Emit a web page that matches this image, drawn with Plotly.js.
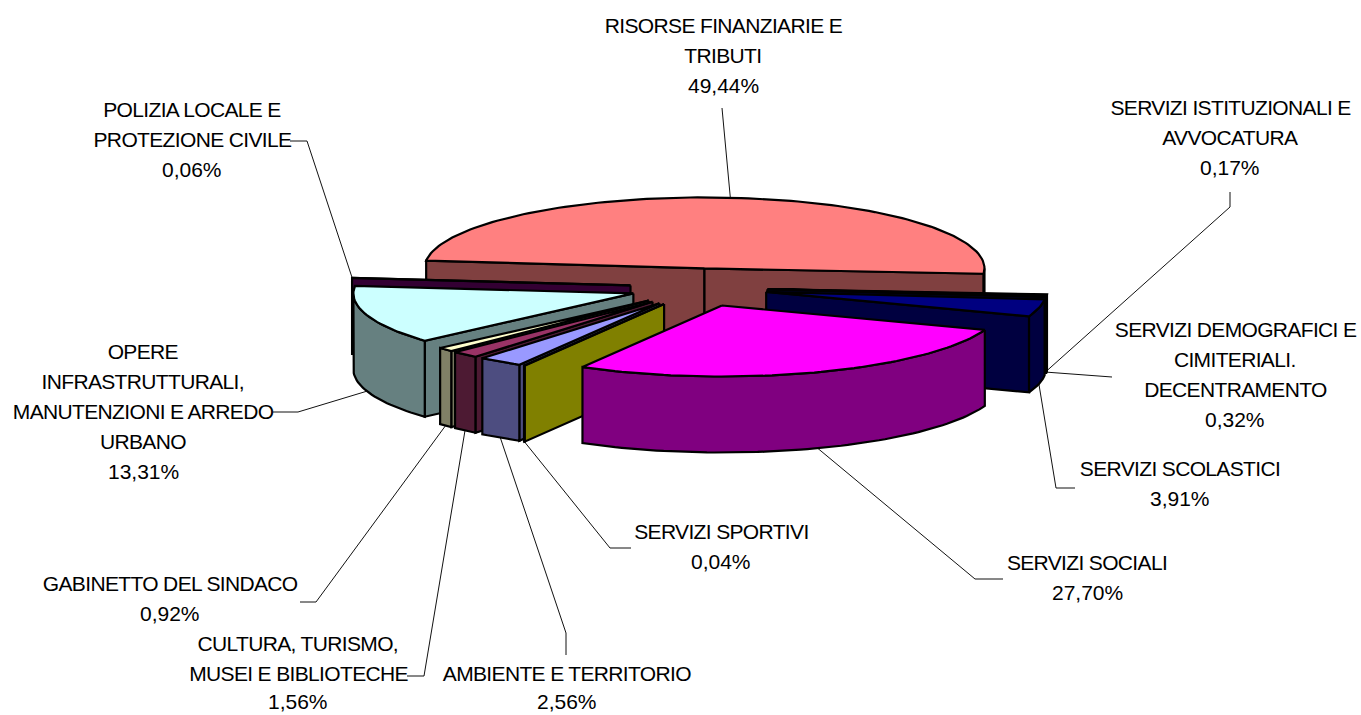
<!DOCTYPE html>
<html>
<head>
<meta charset="utf-8">
<script src="https://cdn.plot.ly/plotly-3.0.1.min.js"></script>
<style>html,body{margin:0;padding:0;background:#fff;overflow:hidden}#chart{width:1361px;height:715px}</style>
</head>
<body>
<div id="chart"></div>
<script>
// Data, in the clockwise order of the pie
const categories = ["RISORSE FINANZIARIE E TRIBUTI","SERVIZI ISTITUZIONALI E AVVOCATURA","SERVIZI DEMOGRAFICI E CIMITERIALI. DECENTRAMENTO","SERVIZI SCOLASTICI","SERVIZI SOCIALI","SERVIZI SPORTIVI","AMBIENTE E TERRITORIO","CULTURA, TURISMO, MUSEI E BIBLIOTECHE","GABINETTO DEL SINDACO","OPERE INFRASTRUTTURALI, MANUTENZIONI E ARREDO URBANO","POLIZIA LOCALE E PROTEZIONE CIVILE"];
const values = [49.44,0.17,0.32,3.91,27.70,0.04,2.56,1.56,0.92,13.31,0.06];
const valueLabels = ["49,44%","0,17%","0,32%","3,91%","27,70%","0,04%","2,56%","1,56%","0,92%","13,31%","0,06%"];
const labelLines = [
  ["RISORSE FINANZIARIE E","TRIBUTI"],
  ["SERVIZI ISTITUZIONALI E","AVVOCATURA"],
  ["SERVIZI DEMOGRAFICI E","CIMITERIALI.","DECENTRAMENTO"],
  ["SERVIZI SCOLASTICI"],
  ["SERVIZI SOCIALI"],
  ["SERVIZI SPORTIVI"],
  ["AMBIENTE E TERRITORIO"],
  ["CULTURA, TURISMO,","MUSEI E BIBLIOTECHE"],
  ["GABINETTO DEL SINDACO"],
  ["OPERE","INFRASTRUTTURALI,","MANUTENZIONI E ARREDO","URBANO"],
  ["POLIZIA LOCALE E","PROTEZIONE CIVILE"]
];
// Styling
const topColors  = ["#FF8080","#0000FF","#000080","#000080","#FF00FF","#FFFF00","#9999FF","#993366","#FFFFCC","#CCFFFF","#660066"];
const wallColors = ["#804040","#000080","#000040","#000040","#800080","#808000","#4D4D80","#4D1A33","#808066","#668080","#330033"];
const drawOrder = [0,1,2,3,10,9,8,7,6,5,4];
// Label layout: centre x, first line y, line pitch, lowest line y
const labelX = [723,1230,1235,1180,1087,721,567,298,170,143,192];
const labelY = [25,107,329,468,562,531,673,643,583,351,109];
const pitch = 30;
const lowestY = 701;
// Leader elbows: [label end, elbow]
const leaderPath = [
  [[722,108]],
  [[1230,192],[1230,207]],
  [[1112,377]],
  [[1075,488],[1056,488]],
  [[1003,579],[975,579]],
  [[631,548],[610,548]],
  [[566,655],[566,633]],
  [[407,676],[424,676]],
  [[300,602],[316,602]],
  [[273,412],[298,412]],
  [[290,141],[307,141]]
];
// Pie geometry
const geo = {cx:698, cy:287.5, rx:280, ry:71, h:76, start:-173.7, pull:0.25, pullY:0.27, leftPull:0.97};
const rad = d => d*Math.PI/180;
const total = values.reduce((a,b)=>a+b,0);
let acc = geo.start;
const slices = values.map(v => { const a=acc; acc+=v/total*360; return {a, b:acc, m:a+(acc-a)/2}; });
slices.forEach(s => {
  const c=Math.cos(rad(s.m)), n=Math.sin(rad(s.m));
  s.ax = geo.cx + geo.pull*geo.rx*c*(c<0?geo.leftPull:1);
  s.ay = geo.cy + geo.pullY*geo.ry*n;
});
const rim = (s,t) => [s.ax+geo.rx*Math.cos(rad(t)), s.ay+geo.ry*Math.sin(rad(t))];
const arc = (s,from,to) => { const p=[]; const n=Math.max(1,Math.ceil((to-from)/1.5)); for(let i=0;i<=n;i++) p.push(rim(s,from+(to-from)*i/n)); return p; };
const poly = (pts,color) => ({type:'scatter',mode:'lines',x:pts.map(p=>p[0]).concat(pts[0][0]),y:pts.map(p=>p[1]).concat(pts[0][1]),
  fill:'toself',fillcolor:color,line:{color:'#000',width:2.2},hoverinfo:'skip',showlegend:false});
const down = p => [p[0],p[1]+geo.h];

const traces = [];
// leader lines
slices.forEach((s,i) => {
  const n=Math.sin(rad(s.m)); const r=rim(s,s.m); const end = n>0?down(r):r;
  const pts = leaderPath[i].concat([end]);
  traces.push({type:'scatter',mode:'lines',x:pts.map(p=>p[0]),y:pts.map(p=>p[1]),line:{color:'#111',width:1},hoverinfo:'skip',showlegend:false});
});
// faces, far to near
drawOrder.forEach(i => {
  const s=slices[i];
  const apex=[s.ax,s.ay];
  if(-Math.cos(rad(s.a))>0){ const p=rim(s,s.a); traces.push(poly([apex,p,down(p),down(apex)],wallColors[i])); }
  if(Math.cos(rad(s.b))>0){ const p=rim(s,s.b); traces.push(poly([apex,p,down(p),down(apex)],wallColors[i])); }
  const from=Math.max(s.a,0), to=Math.min(s.b,180);
  if(to>from){ const e=arc(s,from,to); traces.push(poly(e.concat(e.slice().reverse().map(down)),wallColors[i])); }
  traces.push(poly([apex].concat(arc(s,s.a,s.b)),topColors[i]));
});
// labels
const annotations=[];
labelLines.forEach((lines,i)=>{
  lines.concat(valueLabels[i]).forEach((t,j)=>{
    annotations.push({x:labelX[i],y:Math.min(labelY[i]+j*pitch,lowestY),xref:'x',yref:'y',text:t,showarrow:false,xanchor:'center',yanchor:'middle',
      font:{family:'"Liberation Sans", Arial, sans-serif',size:21,color:'#000'}});
  });
});
Plotly.newPlot('chart',traces,{
  width:1361,height:715,margin:{l:0,r:0,t:0,b:0},paper_bgcolor:'#fff',plot_bgcolor:'#fff',showlegend:false,
  xaxis:{range:[0,1361],visible:false,fixedrange:true},
  yaxis:{range:[715,0],visible:false,fixedrange:true},
  annotations
},{displayModeBar:false,staticPlot:true}).then(() => {
  // the reference's caption lines are tightly set; percentages are not
  document.querySelectorAll('.annotation-text').forEach(t => {
    if(!t.textContent.includes('%')) t.style.letterSpacing='-0.65px';
  });
});
</script>
</body>
</html>
